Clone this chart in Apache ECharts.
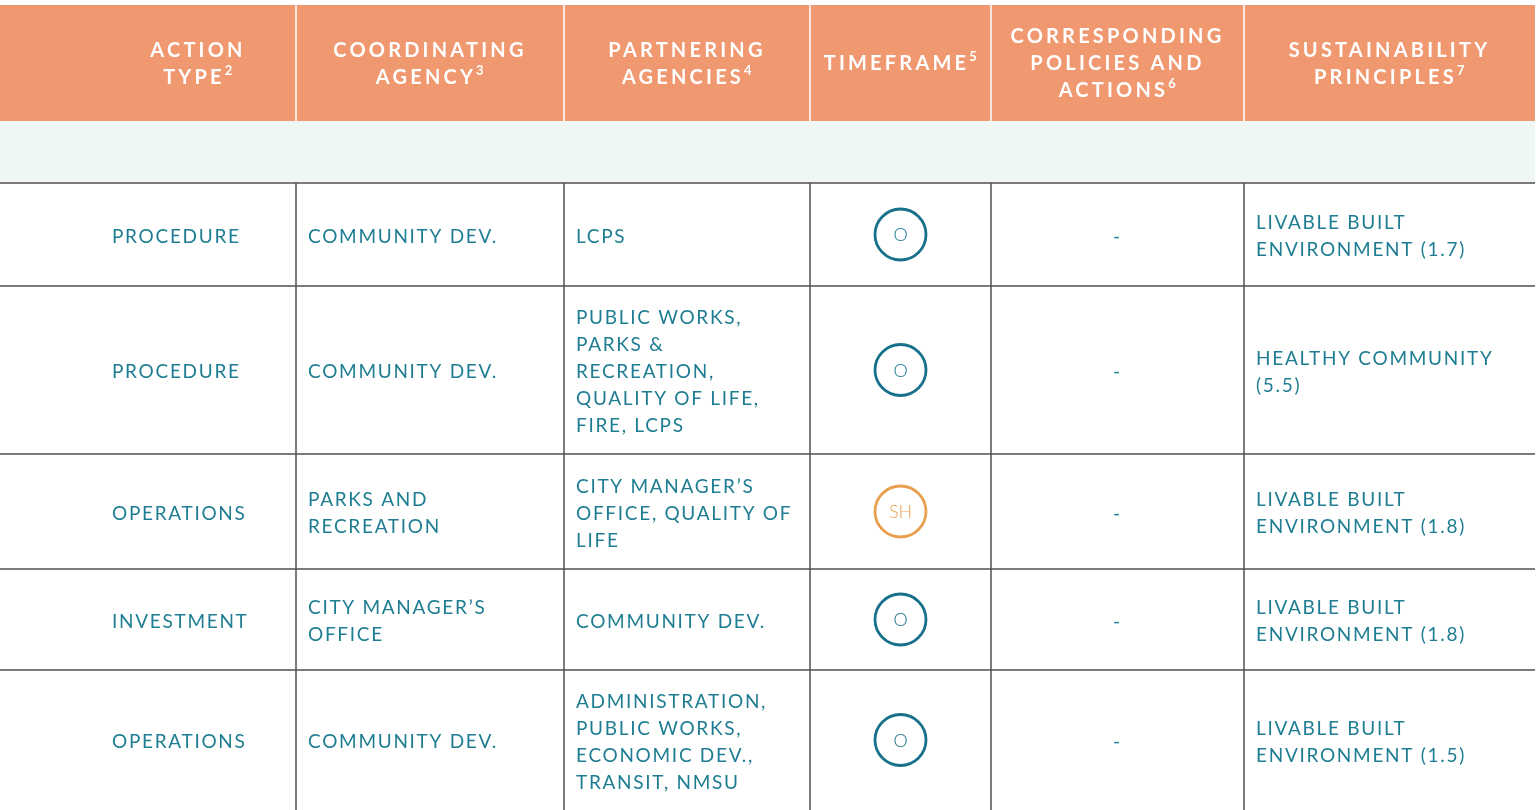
<!DOCTYPE html>
<html>
<head>
<meta charset="utf-8">
<script src="https://cdn.jsdelivr.net/npm/echarts@6/dist/echarts.min.js"></script>
<style>
html,body{margin:0;padding:0;background:#fff;}
#chart{width:1537px;height:810px;}
</style>
</head>
<body>
<div id="chart"></div>
<script>
// ---------- data ----------
const headers = ['ACTION\nTYPE{s|2}', 'COORDINATING\nAGENCY{s|3}', 'PARTNERING\nAGENCIES{s|4}', 'TIMEFRAME{s|5}', 'CORRESPONDING\nPOLICIES AND\nACTIONS{s|6}', 'SUSTAINABILITY\nPRINCIPLES{s|7}'];
const actionType = ['PROCEDURE', 'PROCEDURE', 'OPERATIONS', 'INVESTMENT', 'OPERATIONS'];
const coordinatingAgency = ['COMMUNITY DEV.', 'COMMUNITY DEV.', 'PARKS AND\nRECREATION', 'CITY MANAGER’S\nOFFICE', 'COMMUNITY DEV.'];
const partneringAgencies = ['LCPS', 'PUBLIC WORKS,\nPARKS &\nRECREATION,\nQUALITY OF LIFE,\nFIRE, LCPS', 'CITY MANAGER’S\nOFFICE, QUALITY OF\nLIFE', 'COMMUNITY DEV.', 'ADMINISTRATION,\nPUBLIC WORKS,\nECONOMIC DEV.,\nTRANSIT, NMSU'];
const timeframe = ['O', 'O', 'SH', 'O', 'O'];
const policies = ['-', '-', '-', '-', '-'];
const principles = ['LIVABLE BUILT\nENVIRONMENT (1.7)', 'HEALTHY COMMUNITY\n(5.5)', 'LIVABLE BUILT\nENVIRONMENT (1.8)', 'LIVABLE BUILT\nENVIRONMENT (1.8)', 'LIVABLE BUILT\nENVIRONMENT (1.5)'];

// ---------- layout (positions in page pixels, mapped through axes) ----------
const layout = {
  colEdges: [0, 296, 564, 810, 991, 1244, 1535],
  tableLeft: 100,
  headerTop: 5, headerBottom: 121, bandBottom: 183,
  rowEdges: [183, 286, 454, 569, 670, 810],
  pad: 12
};
const colors = {
  header: '#F0986F', band: '#EEF7F4', line: '#505050', text: '#1E7D92',
  circle: '#17718A', circleSH: '#E9A04E'
};

// letter spacing (tracking) for canvas text
(function(){
  function spacing(f) {
    if (!/Lato/.test(f)) return 0;
    if (/\b300\b/.test(f)) return 0;
    if (/bold/.test(f)) return /\b20px/.test(f) ? 3.2 : 0.5;
    return 1.7;
  }
  const proto = CanvasRenderingContext2D.prototype;
  const ft = proto.fillText;
  proto.fillText = function(t, x, y, m){
    this.letterSpacing = spacing(this.font || '') + 'px';
    return m === undefined ? ft.call(this, t, x, y) : ft.call(this, t, x, y, m);
  };
  const mt = proto.measureText;
  proto.measureText = function(t){
    this.letterSpacing = '0px';
    const r = mt.call(this, t);
    const s = spacing(this.font || '');
    if (!s) return r;
    return {
      width: r.width + s * String(t).length,
      actualBoundingBoxAscent: r.actualBoundingBoxAscent,
      actualBoundingBoxDescent: r.actualBoundingBoxDescent,
      actualBoundingBoxLeft: r.actualBoundingBoxLeft,
      actualBoundingBoxRight: r.actualBoundingBoxRight + s * String(t).length,
      fontBoundingBoxAscent: r.fontBoundingBoxAscent,
      fontBoundingBoxDescent: r.fontBoundingBoxDescent
    };
  };
})();

const chart = echarts.init(document.getElementById('chart'), null, {renderer: 'canvas'});
const C = layout.colEdges, R = layout.rowEdges;
const bodyCols = [actionType, coordinatingAgency, partneringAgencies, timeframe, policies, principles];

function structure(params, api) {
  const p = (x, y) => api.coord([x, y]);
  const children = [];
  const hTL = p(C[0], layout.headerTop), hBR = p(C[6], layout.headerBottom);
  children.push({type: 'rect', shape: {x: hTL[0], y: hTL[1], width: hBR[0]-hTL[0], height: hBR[1]-hTL[1]}, style: {fill: colors.header}});
  const bTL = p(C[0], layout.headerBottom), bBR = p(C[6], layout.bandBottom);
  children.push({type: 'rect', shape: {x: bTL[0], y: bTL[1], width: bBR[0]-bTL[0], height: bBR[1]-bTL[1]}, style: {fill: colors.band}});
  for (let i = 1; i < 6; i++) {
    const a = p(C[i], layout.headerTop), b = p(C[i], layout.headerBottom);
    children.push({type: 'line', shape: {x1: a[0], y1: a[1], x2: b[0], y2: b[1]}, style: {stroke: '#fff', lineWidth: 1.5}});
  }
  for (let j = 0; j < R.length - 1; j++) {
    const a = p(C[0], R[j]), b = p(C[6], R[j]);
    children.push({type: 'line', shape: {x1: a[0], y1: a[1], x2: b[0], y2: b[1]}, style: {stroke: colors.line, lineWidth: 1.5}});
  }
  for (let i = 1; i < 6; i++) {
    const a = p(C[i], R[0]), b = p(C[i], R[R.length-1]);
    children.push({type: 'line', shape: {x1: a[0], y1: a[1], x2: b[0], y2: b[1]}, style: {stroke: colors.line, lineWidth: 1.5}});
  }
  return {type: 'group', children};
}

function headerCell(params, api) {
  const c = api.value(0);
  const left = c === 0 ? layout.tableLeft : C[c];
  const pt = api.coord([(left + C[c+1]) / 2, (layout.headerTop + layout.headerBottom) / 2 + 1]);
  return {type: 'text', style: {text: headers[c], x: pt[0], y: pt[1], align: 'center', verticalAlign: 'middle',
    font: 'bold 20px Lato', fill: '#fff', lineHeight: 27,
    rich: {s: {font: 'bold 13px Lato', fill: '#fff', verticalAlign: 'top', lineHeight: 25}}}};
}

function bodyCell(params, api) {
  const c = api.value(0), r = api.value(1);
  const txt = bodyCols[c][r];
  const yMid = (R[r] + R[r+1]) / 2 + 2;
  if (c === 3) {
    const ctr = api.coord([(C[3] + C[4]) / 2, (R[r] + R[r+1]) / 2]);
    const col = txt === 'SH' ? colors.circleSH : colors.circle;
    return {type: 'group', children: [
      {type: 'circle', shape: {cx: ctr[0], cy: ctr[1], r: 25.5}, style: {fill: '#fff', stroke: col, lineWidth: 2.8}},
      {type: 'text', style: {text: txt, x: ctr[0], y: ctr[1] + 1, align: 'center', verticalAlign: 'middle',
        font: '300 18px Lato', fill: col}}
    ]};
  }
  if (c === 4) {
    const ctr = api.coord([(C[4] + C[5]) / 2, yMid]);
    return {type: 'text', style: {text: txt, x: ctr[0], y: ctr[1], align: 'center', verticalAlign: 'middle',
      font: '19px Lato', fill: colors.text}};
  }
  const left = (c === 0 ? layout.tableLeft : C[c]) + layout.pad;
  const pt = api.coord([left, yMid]);
  return {type: 'text', style: {text: txt, x: pt[0], y: pt[1], align: 'left', verticalAlign: 'middle',
    font: '19px Lato', fill: colors.text, lineHeight: 27}};
}

const headerData = headers.map((h, i) => [i, 0]);
const bodyData = [];
bodyCols.forEach((col, c) => col.forEach((v, r) => bodyData.push([c, r])));

chart.setOption({
  animation: false,
  grid: {left: 0, right: 0, top: 0, bottom: 0},
  xAxis: {type: 'value', min: 0, max: 1537, show: false},
  yAxis: {type: 'value', min: 0, max: 810, inverse: true, show: false},
  series: [
    {type: 'custom', renderItem: structure, data: [[0, 0]], silent: true, z: 1},
    {type: 'custom', renderItem: headerCell, data: headerData, silent: true, z: 2},
    {type: 'custom', renderItem: bodyCell, data: bodyData, silent: true, z: 3}
  ]
});
</script>
</body>
</html>
